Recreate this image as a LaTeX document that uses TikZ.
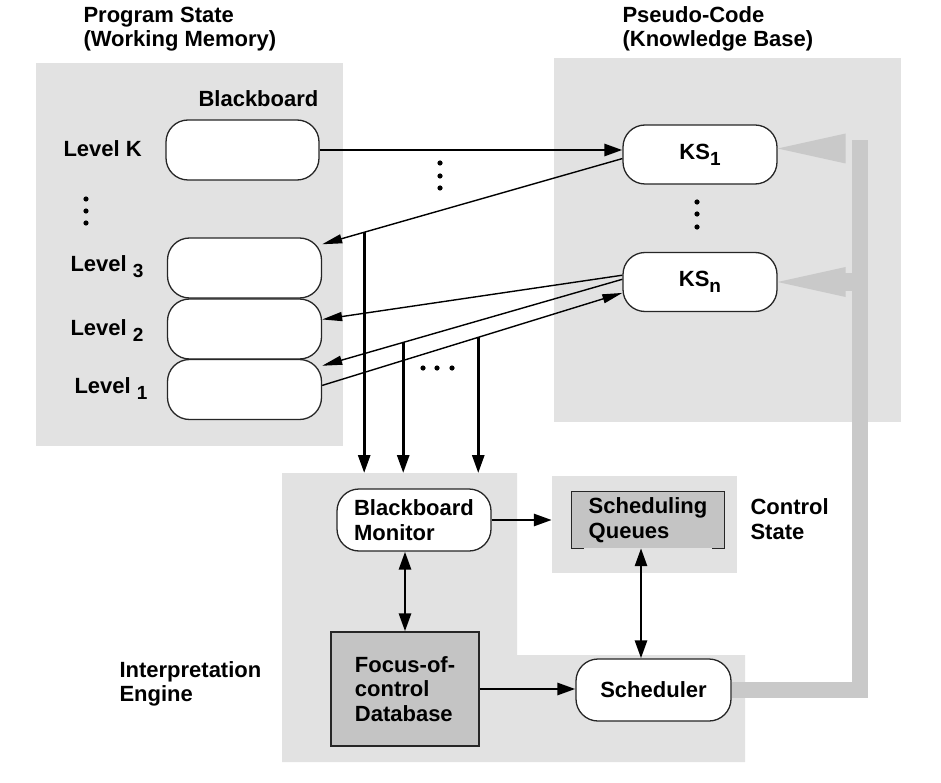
\documentclass[tikz,border=0pt]{standalone}
\usepackage{fontspec}
\setmainfont{Liberation Sans}
\usetikzlibrary{arrows.meta}
\definecolor{panelgray}{gray}{0.885}
\definecolor{boxgray}{gray}{0.77}
\definecolor{bargray}{gray}{0.79}
\newcommand\lowsub[1]{\raisebox{-6pt}{\fontsize{19}{19}\selectfont #1}}
\tikzset{
	panel/.style={fill=panelgray, inner sep=0pt},
	slot/.style={draw=black!85, line width=1.3pt, fill=white, rounded corners=22pt, inner sep=0pt, align=left, minimum width=154pt, minimum height=60pt},
	store/.style={fill=boxgray, inner sep=0pt, align=left},
	light/.style={line width=1.4pt, -{Triangle[length=20pt,width=9pt]}},
	heavy/.style={line width=2.8pt, -{Triangle[length=18pt,width=12pt]}},
	twoway/.style={line width=2.8pt, {Triangle[length=18pt,width=12pt]}-{Triangle[length=18pt,width=12pt]}}
}
\begin{document}
\begin{tikzpicture}[x=1pt, y=-1pt, font=\fontsize{22}{24.5}\selectfont\bfseries]
	\useasboundingbox (0,0) rectangle (941,783);
	\node[panel, minimum width=307pt, minimum height=383pt] (memory) at (189.5,254.5) {};
	\node[panel, minimum width=347pt, minimum height=364pt] (knowledge) at (727.5,240) {};
	\node[panel, minimum width=185pt, minimum height=97pt] (control) at (644.5,524.5) {};
	\fill[panelgray] (282,473) coordinate (engine) -- (517,473) -- (517,655) -- (745,655) -- (745,762) -- (282,762) -- cycle;
	\node[anchor=west, align=left] (memtitle) at (80,29) {Program State\\(Working Memory)};
	\node[anchor=west, align=left] (kbtitle) at (619,29) {Pseudo-Code\\(Knowledge Base)};
	\node[anchor=base west] (bbtitle) at (195,107) {Blackboard};
	\node[slot, minimum width=153pt] (lk) at (242.5,150) {};
	\node[slot] (l3) at (244.5,268) {};
	\node[slot] (l2) at (244.5,329) {};
	\node[slot] (l1) at (244.5,389.5) {};
	\node[anchor=base west] (lktext) at (60,157) {Level K};
	\node[anchor=base west] (l3text) at (67,272) {Level \lowsub{3}};
	\node[anchor=base west] (l2text) at (67,335) {Level \lowsub{2}};
	\node[anchor=base west] (l1text) at (71,393) {Level \lowsub{1}};
	\node[slot, minimum height=59pt] (ks1) at (700,154.5) {KS\lowsub{1}};
	\node[slot, minimum height=59pt] (ksn) at (700,282) {KS\lowsub{n}};
	\node[slot, minimum height=62pt] (monitor) at (414,520) {Blackboard\\Monitor};
	\node[store, minimum width=152pt, minimum height=56pt] (queues) at (648,520) {Scheduling\\Queues};
	\draw[line width=1.3pt, black!85] ([xshift=12pt]queues.south west) -- (queues.south west) -- (queues.north west) -- (queues.north east) -- (queues.south east) -- ([xshift=-12pt]queues.south east);
	\node[store, draw=black!85, line width=1.3pt, minimum width=148pt, minimum height=114pt] (focus) at (405,689) {Focus-of-\\control\\Database};
	\node[slot, minimum width=155pt, minimum height=62pt] (scheduler) at (653.5,690) {Scheduler};
	\node[anchor=west, align=left] (cstext) at (747,519) {Control\\State};
	\node[anchor=west, align=left] (ietext) at (116,684) {Interpretation\\Engine};
	\draw[bargray, line width=16pt] (scheduler.east) -- (860,690) coordinate (bend) -- (860,140) coordinate (bartop);
	\fill[bargray] ([yshift=6pt]ks1.east) -- ++(68,-15) -- ++(0,30) -- cycle;
	\fill[bargray] (ksn.east) -- ++(68,-15) -- ++(0,30) -- cycle;
	\draw[bargray, line width=17pt] (ksn.east -| bartop) -- ++(-16,0);
	\foreach \y in {199,211,223} \fill (86,\y) circle (2.6pt);
	\foreach \y in {163,176,188} \fill (440,\y) circle (2.6pt);
	\foreach \y in {202,214,227} \fill (697,\y) circle (2.6pt);
	\foreach \x in {423,437,452} \fill (\x,368) circle (2.6pt);
	\draw[heavy] (lk.east) -- (lk.east -| ks1.west);
	\draw[light] (ks1.183) -- coordinate[pos=0.86] (tap1) (l3.17);
	\draw[light] (ksn.175) -- (l2.7);
	\draw[light] (ksn.178) -- coordinate[pos=0.73] (tap2) (l1.17);
	\draw[light] (l1.3) -- coordinate[pos=0.52] (tap3) (ksn.188);
	\foreach \t in {tap1,tap2,tap3} \draw[heavy] (\t) -- (\t |- engine);
	\draw[heavy] (monitor.east) -- (monitor.east -| control.west);
	\draw[twoway] (focus.north) -- (focus.north |- monitor.south);
	\draw[twoway] ([xshift=-7pt]queues.south) -- ([xshift=-7pt]queues.south |- scheduler.north);
	\draw[heavy] (focus.east) -- (focus.east -| scheduler.west);
\end{tikzpicture}
\end{document}
